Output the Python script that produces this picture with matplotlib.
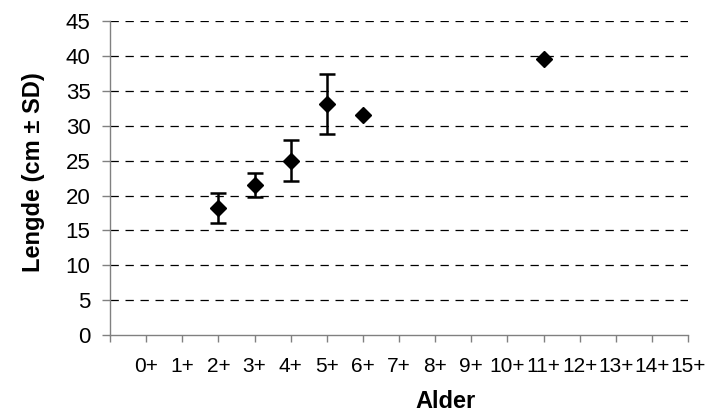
import matplotlib
matplotlib.use("Agg")
import matplotlib.pyplot as plt
import numpy as np

plt.rcParams["font.family"] = ["Liberation Sans", "DejaVu Sans"]
plt.rcParams["lines.scale_dashes"] = False

# ---------------------------------------------------------------------------
# Data
# ---------------------------------------------------------------------------
ages = [2, 3, 4, 5, 6, 11]
length_mean = [18.2, 21.5, 25.0, 33.2, 31.6, 39.6]
length_sd = [2.15, 1.7, 2.95, 4.3, np.nan, np.nan]

tick_pos = list(range(-1, 16))
tick_labels = [""] + [f"{a}+" for a in range(0, 16)]

AXIS_GREY = "#808080"

fig = plt.figure(figsize=(7.08, 4.12), dpi=100)
ax = fig.add_axes([110 / 708, 1 - 335 / 412, 578 / 708, 313.7 / 412])

# dashed horizontal gridlines
for yv in range(5, 50, 5):
    ax.axhline(yv, color="black", lw=0.9, ls=(0, (6.0, 4.8)), zorder=1)

x = np.array(ages, dtype=float)
y = np.array(length_mean)
sd = np.array(length_sd)
has_sd = ~np.isnan(sd)

ax.errorbar(x[has_sd], y[has_sd], yerr=sd[has_sd], fmt="none",
            ecolor="black", elinewidth=1.8, capsize=5.6, capthick=1.8, zorder=2)
ax.plot(x, y, ls="none", marker="D", ms=8.6, color="black", zorder=3)

ax.set_xlim(-1, 15)
ax.set_ylim(0, 45)
ax.set_xticks(tick_pos)
ax.set_xticklabels(tick_labels)
ax.set_yticks(range(0, 50, 5))

for side in ("top", "right"):
    ax.spines[side].set_visible(False)
for side in ("left", "bottom"):
    ax.spines[side].set_color(AXIS_GREY)
    ax.spines[side].set_linewidth(1.0)

ax.tick_params(axis="x", direction="out", length=5, width=1.0,
               color=AXIS_GREY, labelsize=15, pad=11)
ax.tick_params(axis="y", direction="out", length=6, width=1.0,
               color=AXIS_GREY, labelsize=16, pad=8)

ax.set_xlabel("Alder", fontsize=17, fontweight="bold")
ax.set_ylabel("Lengde (cm ± SD)", fontsize=17, fontweight="bold")
ax.xaxis.set_label_coords((446 - 110) / 578, (335 - 401) / 313.7)
ax.yaxis.set_label_coords((33 - 110) / 578, (335 - 172) / 313.7)
ax.xaxis.label.set_va("center")
ax.yaxis.label.set_va("center")

fig.savefig("out.png", dpi=100)
